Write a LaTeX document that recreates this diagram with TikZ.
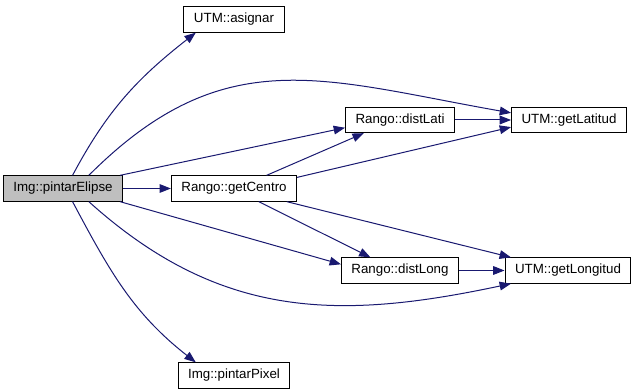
\documentclass[tikz,border=0pt]{standalone}
\usepackage{fontspec}
\setmainfont{Liberation Sans}
\usetikzlibrary{arrows.meta}
\definecolor{edge}{HTML}{191970}
\definecolor{rootfill}{HTML}{BFBFBF}
\tikzset{
  func/.style={draw=black,fill=white,line width=0.75pt,inner xsep=7.5pt,inner ysep=0pt,minimum height=19pt,font=\fontsize{10}{12}\selectfont,text=black},
  root/.style={func,fill=rootfill},
  call/.style={-{Triangle[length=8.5pt,width=6.5pt]},line width=0.75pt,color=edge},
}

\begin{document}
\begin{tikzpicture}[x=0.75pt,y=-0.75pt]
  \useasboundingbox (0,0) rectangle (636,392);
  % functions
  \node[root] (elipse) at (63,188.5) {Img::pintarElipse};
  \node[func] (asignar) at (234,19.5) {UTM::asignar};
  \node[func] (centro) at (234,188.5) {Rango::getCentro};
  \node[func] (pixel) at (234,375.5) {Img::pintarPixel};
  \node[func] (lati) at (400,120) {Rango::distLati};
  \node[func] (long) at (400,270.5) {Rango::distLong};
  \node[func] (getlat) at (569,120) {UTM::getLatitud};
  \node[func] (getlong) at (568,270.5) {UTM::getLongitud};
  % calls from pintarElipse
  \draw[call] (elipse.54) to[out=62,in=218] (asignar.199);
  \draw[call] (elipse.27) to[out=45,in=170,looseness=1.15] (getlat.173);
  \draw[call] (elipse.13) -- (lati.188);
  \draw[call] (elipse.east) -- (centro.west);
  \draw[call] (elipse.347) -- (long.174);
  \draw[call] (elipse.333) to[out=-42,in=192,looseness=1.05] (getlong.193);
  \draw[call] (elipse.306) to[out=-62,in=142] (pixel.161);
  % calls from getCentro
  \draw[call] (centro.22) -- (lati.200);
  \draw[call] (centro.10) -- (getlat.187);
  \draw[call] (centro.332) -- (long.156);
  \draw[call] (centro.346) -- (getlong.167);
  % utm lookups
  \draw[call] (lati.east) -- (getlat.west);
  \draw[call] (long.east) -- (getlong.west);
\end{tikzpicture}
\end{document}
